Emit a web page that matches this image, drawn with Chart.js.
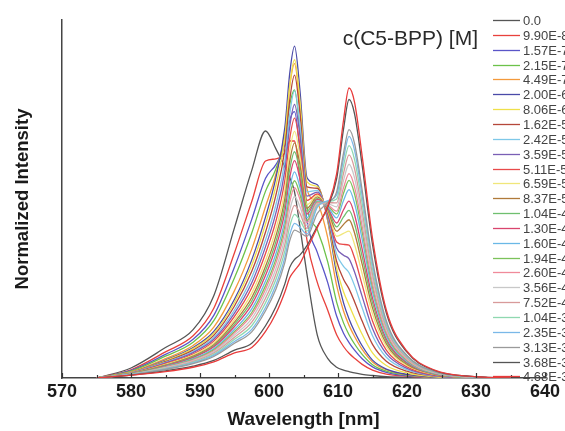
<!DOCTYPE html>
<html>
<head>
<meta charset="utf-8">
<script src="https://cdn.jsdelivr.net/npm/chart.js@4.4.1/dist/chart.umd.min.js"></script>
<style>
  html, body { margin: 0; padding: 0; background: #fff; }
  #wrap { width: 565px; height: 431px; position: relative; }
</style>
</head>
<body>
<div id="wrap"><canvas id="spec"></canvas></div>
<script>
// wavelength grid (nm)
const wavelengths = [575, 580, 585, 589, 592, 595, 597.5, 599.5, 601, 602.3, 603, 603.7, 604.5, 605.5, 607, 608.5, 609.8, 610.8, 611.6, 612.4, 613.5, 615, 617, 620, 624, 629, 635];

// concentration of C5-BPP [M], legend order
const concLabels = ['0.0', '9.90E-8', '1.57E-7', '2.15E-7', '4.49E-7', '2.00E-6', '8.06E-6', '1.62E-5', '2.42E-5', '3.59E-5', '5.11E-5', '6.59E-5', '8.37E-5', '1.04E-4', '1.30E-4', '1.60E-4', '1.94E-4', '2.60E-4', '3.56E-4', '7.52E-4', '1.04E-3', '2.35E-3', '3.13E-3', '3.68E-3', '4.68E-3'];

const xTicks = [570, 580, 590, 600, 610, 620, 630, 640];
const xMinorTicks = [575, 585, 595, 605, 615, 625, 635];

// normalized intensity
const y00 = [0, .028, .085, .135, .23, .42, .58, .69, .64, .59, .56, .52, .42, .29, .12, .055, .03, .022, .018, .014, .01, .007, .004, .002, .001, 0, 0];
const y01 = [0, .023, .073, .118, .195, .35, .493, .606, .612, .629, .662, .662, .553, .385, .267, .19, .121, .088, .069, .055, .038, .022, .011, .005, .001, 0, 0];
const y02 = [0, .021, .066, .108, .175, .31, .443, .558, .596, .651, .72, .744, .629, .439, .351, .267, .173, .125, .099, .078, .054, .031, .016, .006, .002, 0, 0];
const y03 = [0, .019, .061, .1, .16, .28, .405, .522, .584, .667, .763, .805, .686, .479, .414, .325, .212, .154, .121, .095, .066, .037, .019, .008, .002, 0, 0];
const y04 = [0, .017, .054, .091, .142, .244, .36, .479, .57, .687, .815, .878, .754, .528, .489, .393, .259, .187, .147, .116, .08, .045, .023, .009, .002, 0, 0];
const y05 = [0, .015, .05, .085, .13, .22, .33, .45, .56, .70, .85, .927, .80, .56, .54, .44, .29, .21, .165, .13, .09, .05, .025, .01, .002, 0, 0];
const y06 = [0, .015, .048, .082, .125, .211, .315, .431, .537, .672, .816, .889, .771, .548, .535, .444, .307, .241, .204, .168, .122, .07, .035, .014, .003, 0, 0];
const y07 = [0, .014, .046, .078, .119, .201, .298, .408, .511, .64, .776, .846, .738, .534, .53, .449, .326, .276, .249, .213, .159, .094, .047, .019, .005, .001, 0];
const y08 = [0, .014, .044, .074, .113, .19, .281, .386, .484, .608, .736, .802, .704, .52, .524, .454, .346, .312, .294, .258, .196, .118, .058, .023, .006, .001, 0];
const y09 = [0, .013, .042, .071, .108, .181, .266, .367, .461, .58, .702, .764, .675, .508, .519, .458, .363, .343, .333, .296, .228, .138, .068, .027, .007, .001, 0];
const y10 = [0, .013, .04, .067, .103, .172, .252, .348, .438, .553, .668, .726, .646, .496, .514, .462, .38, .373, .371, .335, .26, .159, .078, .031, .008, .002, 0];
const y11 = [0, .012, .038, .064, .098, .163, .237, .328, .416, .525, .633, .689, .618, .484, .51, .467, .396, .404, .41, .373, .291, .179, .088, .035, .01, .002, 0];
const y12 = [0, .012, .036, .061, .093, .156, .225, .312, .397, .502, .605, .657, .594, .474, .506, .47, .41, .429, .442, .405, .318, .196, .096, .038, .011, .002, 0];
const y13 = [0, .012, .035, .059, .09, .15, .215, .30, .381, .484, .582, .632, .574, .466, .502, .473, .422, .45, .468, .431, .339, .21, .103, .041, .011, .002, 0];
const y14 = [0, .011, .034, .057, .087, .144, .205, .287, .366, .465, .559, .607, .555, .458, .499, .476, .433, .47, .494, .456, .36, .223, .109, .043, .012, .003, 0];
const y15 = [0, .011, .032, .054, .082, .136, .193, .271, .347, .442, .531, .576, .531, .448, .495, .479, .447, .496, .526, .488, .387, .24, .117, .046, .013, .003, 0];
const y16 = [0, .011, .031, .052, .079, .13, .183, .258, .332, .424, .508, .551, .512, .44, .492, .482, .458, .516, .552, .514, .408, .254, .124, .049, .014, .003, 0];
const y17 = [0, .011, .03, .05, .076, .126, .176, .248, .321, .41, .491, .532, .498, .434, .49, .484, .466, .531, .571, .533, .424, .264, .129, .051, .015, .003, 0];
const y18 = [0, .01, .029, .048, .073, .12, .166, .236, .305, .392, .468, .507, .478, .426, .486, .487, .478, .552, .597, .559, .445, .278, .136, .054, .015, .003, 0];
const y19 = [0, .01, .027, .046, .07, .114, .156, .223, .29, .373, .445, .482, .459, .418, .483, .49, .489, .572, .623, .584, .466, .291, .142, .056, .016, .004, 0];
const y20 = [0, .01, .026, .044, .066, .108, .146, .21, .275, .355, .423, .457, .44, .41, .48, .493, .50, .593, .649, .61, .488, .305, .149, .059, .017, .004, 0];
const y21 = [0, .01, .025, .042, .063, .102, .136, .197, .26, .337, .40, .432, .421, .402, .477, .495, .511, .613, .675, .636, .509, .319, .155, .061, .018, .004, 0];
const y22 = [0, .009, .024, .04, .06, .097, .129, .188, .248, .323, .383, .413, .406, .396, .46, .49, .52, .628, .694, .655, .525, .329, .16, .063, .018, .004, 0];
const y23 = [0, .008, .02, .033, .049, .078, .097, .146, .199, .263, .309, .331, .344, .37, .424, .477, .556, .695, .778, .738, .594, .373, .182, .072, .021, .005, 0];
const y24 = [0, .008, .018, .03, .045, .07, .085, .13, .18, .24, .28, .30, .32, .36, .42, .48, .57, .72, .81, .77, .62, .39, .19, .075, .022, .005, 0];

const seriesValues = [y00, y01, y02, y03, y04, y05, y06, y07, y08, y09, y10, y11, y12, y13, y14, y15, y16, y17, y18, y19, y20, y21, y22, y23, y24];

const lineColors = [
  '#555555', '#e8413c', '#5a55c8', '#6cc24a', '#f39a3c', '#4a4aa8', '#efe04a', '#b5473a',
  '#7ec8e8', '#7a5fb5', '#e84a4a', '#f0e67a', '#b07a3a', '#6fbf6f', '#d9456e', '#6ab8e6',
  '#7cc25a', '#f08a9a', '#c8c8c8', '#d89a9a', '#8fd8b0', '#7ab8e8', '#9a9a9a', '#555555', '#e83a3a'
];

const FONT = '"Liberation Sans", Arial, sans-serif';

const datasets = seriesValues.map((vals, i) => ({
  label: concLabels[i],
  data: vals.map((v, k) => ({ x: wavelengths[k], y: v })),
  borderColor: lineColors[i],
  borderWidth: 1.3,
  pointRadius: 0,
  cubicInterpolationMode: 'monotone',
  fill: false,
  order: seriesValues.length - i
}));

// inward ticks on the x axis, title and legend inside the plot
const decorations = {
  id: 'decorations',
  afterDatasetsDraw(chart) {
    const { ctx, scales: { x }, chartArea } = chart;
    ctx.save();
    ctx.strokeStyle = '#333';
    ctx.lineWidth = 1.2;
    const tick = (v, len) => {
      const px = Math.round(x.getPixelForValue(v)) + 0.5;
      ctx.beginPath();
      ctx.moveTo(px, chartArea.bottom);
      ctx.lineTo(px, chartArea.bottom - len);
      ctx.stroke();
    };
    xTicks.forEach(v => tick(v, 5));
    xMinorTicks.forEach(v => tick(v, 3));
    ctx.restore();
  },
  afterDraw(chart) {
    const { ctx } = chart;
    ctx.save();
    ctx.fillStyle = '#2a2a2a';
    ctx.font = '21px ' + FONT;
    ctx.textAlign = 'right';
    ctx.textBaseline = 'alphabetic';
    ctx.fillText('c(C5-BPP) [M]', 478, 45);

    ctx.font = '13px ' + FONT;
    ctx.textAlign = 'left';
    ctx.textBaseline = 'middle';
    chart.data.datasets.forEach((ds, i) => {
      const y = Math.round(20 + i * 14.85) + 0.5;
      ctx.strokeStyle = ds.borderColor;
      ctx.lineWidth = 1.3;
      ctx.beginPath();
      ctx.moveTo(493, y);
      ctx.lineTo(520, y);
      ctx.stroke();
      ctx.fillStyle = '#444';
      ctx.fillText(ds.label, 523, y + 0.5);
    });
    ctx.restore();
  }
};

new Chart(document.getElementById('spec'), {
  type: 'line',
  data: { datasets },
  options: {
    responsive: true,
    maintainAspectRatio: false,
    animation: false,
    layout: { padding: { top: 20, right: 20, left: 0, bottom: 0 } },
    plugins: { legend: { display: false }, tooltip: { enabled: false } },
    scales: {
      x: {
        type: 'linear',
        min: 570,
        max: 640,
        afterFit: (s) => { s.height = 53; },
        afterBuildTicks: (s) => { s.ticks = xTicks.map(v => ({ value: v })); },
        ticks: {
          color: '#1a1a1a',
          font: { family: FONT, size: 18, weight: 'bold' },
          padding: 3,
          maxRotation: 0
        },
        grid: { display: true, drawOnChartArea: false, drawTicks: false },
        border: { display: true, color: '#444', width: 1.5 },
        title: {
          display: true,
          text: 'Wavelength [nm]',
          color: '#1a1a1a',
          font: { family: FONT, size: 19, weight: 'bold' },
          padding: { top: 0, bottom: 0 }
        }
      },
      y: {
        min: 0,
        max: 1,
        afterFit: (s) => { s.width = 62; },
        ticks: { display: false },
        grid: { display: true, drawOnChartArea: false, drawTicks: false },
        border: { display: true, color: '#444', width: 1.5 },
        title: {
          display: true,
          text: 'Normalized Intensity',
          color: '#1a1a1a',
          font: { family: FONT, size: 18.5, weight: 'bold' },
          padding: { top: 12, bottom: 0 }
        }
      }
    }
  },
  plugins: [decorations]
});
</script>
</body>
</html>
